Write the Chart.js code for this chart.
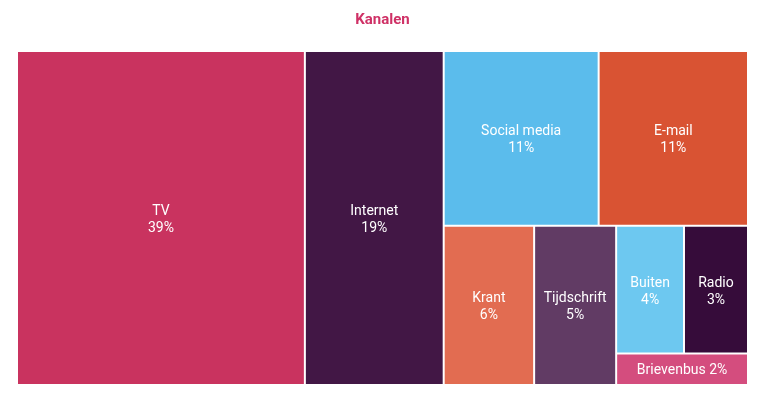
<!DOCTYPE html>
<html>
<head>
<meta charset="utf-8">
<script src="https://cdn.jsdelivr.net/npm/chart.js@4/dist/chart.umd.min.js"></script>
<style>
  html, body { margin: 0; padding: 0; background: #fff; }
  #wrap { width: 768px; height: 405px; }
</style>
</head>
<body>
<div id="wrap"><canvas id="kanalenChart" width="768" height="405"></canvas></div>
<script>
var kanalen = ['TV', 'Internet', 'Social media', 'E-mail', 'Krant', 'Tijdschrift', 'Buiten', 'Radio', 'Brievenbus'];
var aandeel = [39.4, 19.0, 11.1, 10.7, 5.9, 5.35, 3.55, 3.35, 1.7];
var kleuren = ['#c9335f', '#421745', '#5bbcec', '#d95333', '#e26c51', '#613b64', '#6dc8f0', '#360c3a', '#d44d7e'];

// split the sorted list in two (first part just over half), cut along the longest side
function partition(vals, i, j, x0, y0, x1, y1, measure, out) {
    if (j - i === 1) {
        out[i] = {x0: x0, y0: y0, x1: x1, y1: y1};
        return;
    }
    var total = 0;
    for (var n = i; n < j; n++) total += vals[n];
    var k = i, acc = 0;
    while (k < j - 1 && acc + vals[k] < total / 2) {
        acc += vals[k];
        k++;
    }
    if (k < j - 1) {
        acc += vals[k];
        k++;
    }
    var f = acc / total;
    var dims = measure(x0, y0, x1, y1);
    if (dims[0] > dims[1]) {
        var xm = x0 + (x1 - x0) * f;
        partition(vals, i, k, x0, y0, xm, y1, measure, out);
        partition(vals, k, j, xm, y0, x1, y1, measure, out);
    } else {
        var ym = y0 + (y1 - y0) * f;
        partition(vals, i, k, x0, y0, x1, ym, measure, out);
        partition(vals, k, j, x0, ym, x1, y1, measure, out);
    }
}

class TreemapController extends Chart.DatasetController {
    update(mode) {
        var meta = this._cachedMeta;
        this.updateElements(meta.data, 0, meta.data.length, mode);
    }
    updateElements(rects, start, count, mode) {
        var xs = this._cachedMeta.xScale;
        var ys = this._cachedMeta.yScale;
        var vals = this.getDataset().data;
        var boxes = [];
        partition(vals, 0, vals.length, 0, 0, 100, 100, function (a, b, c, d) {
            return [Math.abs(xs.getPixelForValue(c) - xs.getPixelForValue(a)),
                    Math.abs(ys.getPixelForValue(d) - ys.getPixelForValue(b))];
        }, boxes);
        for (var i = start; i < start + count; i++) {
            var b = boxes[i];
            var left = xs.getPixelForValue(b.x0), right = xs.getPixelForValue(b.x1);
            var top = ys.getPixelForValue(b.y0), bottom = ys.getPixelForValue(b.y1);
            this.updateElement(rects[i], i, {
                x: (left + right) / 2,
                y: top,
                base: bottom,
                width: right - left,
                horizontal: false,
                borderSkipped: {},
                inflateAmount: 0,
                options: this.resolveDataElementOptions(i, mode)
            }, mode);
        }
    }
}
TreemapController.id = 'treemap';
TreemapController.defaults = { datasetElementType: false, dataElementType: 'bar' };
TreemapController.overrides = { scales: { x: { type: 'linear' }, y: { type: 'linear' } } };
Chart.register(TreemapController);

var labelPlugin = {
    id: 'cellLabels',
    afterDatasetsDraw: function (chart) {
        var ctx = chart.ctx;
        var meta = chart.getDatasetMeta(0);
        ctx.save();
        ctx.fillStyle = '#ffffff';
        ctx.font = '14px Roboto';
        ctx.textAlign = 'center';
        ctx.textBaseline = 'middle';
        meta.data.forEach(function (el, i) {
            var cy = (el.y + el.base) / 2 + 2;
            var h = Math.abs(el.base - el.y);
            var pct = Math.round(aandeel[i]) + '%';
            if (h > 45) {
                ctx.fillText(kanalen[i], el.x, cy - 8.5);
                ctx.fillText(pct, el.x, cy + 8.5);
            } else {
                ctx.fillText(kanalen[i] + ' ' + pct, el.x, cy - 1);
            }
        });
        ctx.restore();
    }
};

var ctx = document.getElementById('kanalenChart');
var kanalenChart = new Chart(ctx, {
    type: 'treemap',
    data: {
        labels: kanalen,
        datasets: [{
            data: aandeel,
            backgroundColor: kleuren,
            borderColor: 'rgba(255, 255, 255, 0.85)',
            borderWidth: 1
        }]
    },
    options: {
        responsive: false,
        animation: false,
        events: [],
        layout: { padding: { left: 17, right: 20, top: 0, bottom: 20 } },
        scales: {
            x: { type: 'linear', min: 0, max: 100, display: false },
            y: { type: 'linear', min: 0, max: 100, reverse: true, display: false }
        },
        plugins: {
            legend: { display: false },
            tooltip: { enabled: false },
            title: {
                display: true,
                text: 'Kanalen',
                color: '#cf3166',
                font: { family: 'Roboto', size: 15, weight: 'bold' },
                padding: { top: 11, bottom: 22 }
            }
        }
    },
    plugins: [labelPlugin]
});
</script>
</body>
</html>
